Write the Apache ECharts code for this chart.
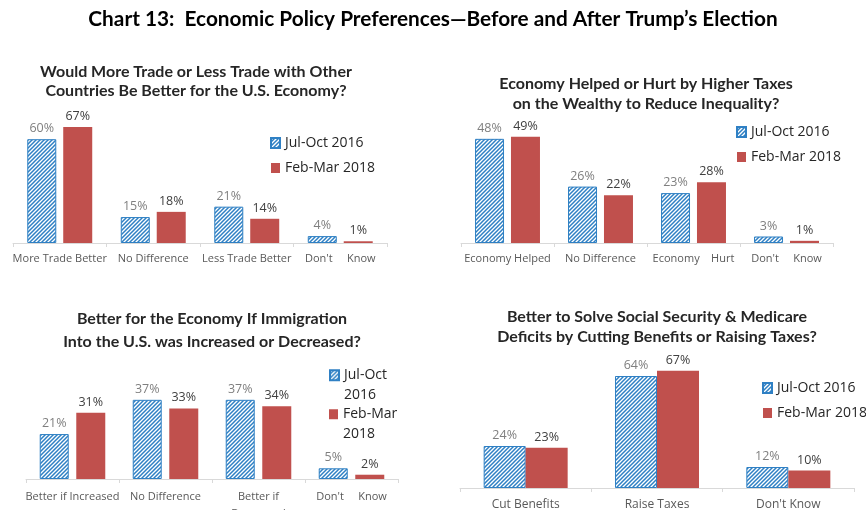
<!DOCTYPE html>
<html>
<head>
<meta charset="utf-8">
<script src="https://cdn.jsdelivr.net/npm/echarts@6/dist/echarts.min.js"></script>
<style>
  html, body { margin: 0; padding: 0; background: #ffffff; }
  #chart { width: 866px; height: 510px; }
</style>
</head>
<body>
<div id="chart"></div>
<script>
// Survey waves
const seriesNames = ['Jul-Oct 2016', 'Feb-Mar 2018'];

// Panel 1: trade
const tradeCategories = ['More Trade Better', 'No Difference', 'Less Trade Better', "Don't     Know"];
const trade2016 = [60, 15, 21, 4];
const trade2018 = [67, 18, 14, 1];

// Panel 2: taxes on the wealthy
const taxCategories = ['Economy Helped', 'No Difference', 'Economy    Hurt', "Don't     Know"];
const tax2016 = [48, 26, 23, 3];
const tax2018 = [49, 22, 28, 1];

// Panel 3: immigration
const immigrationCategories = ['Better if Increased', 'No Difference', 'Better if\nDecreased', "Don't     Know"];
const immigration2016 = [21, 37, 37, 5];
const immigration2018 = [31, 33, 34, 2];

// Panel 4: Social Security & Medicare
const entitlementCategories = ['Cut Benefits', 'Raise Taxes', "Don't Know"];
const entitlement2016 = [24, 64, 12];
const entitlement2018 = [23, 67, 10];

const mainTitle = 'Chart 13:  Economic Policy Preferences\u2014Before and After Trump\u2019s Election';
const panelTitles = [
  'Would More Trade or Less Trade with Other\nCountries Be Better for the U.S. Economy?',
  'Economy Helped or Hurt by Higher Taxes\non the Wealthy to Reduce Inequality?',
  'Better for the Economy If Immigration\nInto the U.S. was Increased or Decreased?',
  'Better to Solve Social Security & Medicare\nDeficits by Cutting Benefits or Raising Taxes?'
];

const BLUE = '#2f80c4';
const RED = '#c0504d';
const FONT = 'Lato, "Open Sans", sans-serif';
const LABEL_FONT = '"Open Sans", Lato, sans-serif';

// diagonal hatch used for the 2016 bars
function hatchPattern(color) {
  const s = 4;
  const c = document.createElement('canvas');
  c.width = s; c.height = s;
  const ctx = c.getContext('2d');
  ctx.fillStyle = '#ffffff';
  ctx.fillRect(0, 0, s, s);
  ctx.strokeStyle = color;
  ctx.lineWidth = 1.5;
  ctx.beginPath();
  ctx.moveTo(-1, s + 1); ctx.lineTo(s + 1, -1);
  ctx.moveTo(-1, 1); ctx.lineTo(1, -1);
  ctx.moveTo(s - 1, s + 1); ctx.lineTo(s + 1, s - 1);
  ctx.stroke();
  return { image: c, repeat: 'repeat' };
}
const hatch = hatchPattern(BLUE);

// layout of each panel
const panels = [
  { categories: tradeCategories, a: trade2016, b: trade2018,
    grid: { left: 13, top: 70, width: 374, height: 173 },
    title: { x: 196, top: 62, lineHeight: 19 },
    barWidth: 29, barGap: '24%', labelMargin: 9, labelSize: 11, labelLineHeight: 14 },
  { categories: taxCategories, a: tax2016, b: tax2018,
    grid: { left: 461, top: 26, width: 372, height: 217 },
    title: { x: 646, top: 74, lineHeight: 20 },
    barWidth: 29, barGap: '24%', labelMargin: 9, labelSize: 11, labelLineHeight: 14 },
  { categories: immigrationCategories, a: immigration2016, b: immigration2018,
    grid: { left: 26, top: 265, width: 372, height: 214 },
    title: { x: 212, top: 307, lineHeight: 23 },
    barWidth: 29, barGap: '26%', labelMargin: 9, labelSize: 11, labelLineHeight: 17 },
  { categories: entitlementCategories, a: entitlement2016, b: entitlement2018,
    grid: { left: 460, top: 313, width: 394, height: 175 },
    title: { x: 657, top: 307, lineHeight: 20 },
    barWidth: 42, barGap: '0%', labelMargin: 10, labelSize: 12, labelLineHeight: 14 }
];

const grid = [], xAxis = [], yAxis = [], series = [], title = [];

title.push({
  text: mainTitle, left: 433, top: 7, textAlign: 'center', padding: 0,
  textStyle: { fontFamily: FONT, fontWeight: 'bold', fontSize: 20.8, lineHeight: 24, color: '#000000' }
});

panels.forEach((p, i) => {
  // fixed plot rectangles; labels may run past the page edge
  grid.push(Object.assign({ containLabel: false, outerBoundsMode: 'none' }, p.grid));
  title.push({
    text: panelTitles[i], left: p.title.x, top: p.title.top, textAlign: 'center', padding: 0,
    textStyle: { fontFamily: FONT, fontWeight: 'bold', fontSize: 16, lineHeight: p.title.lineHeight, color: '#262626' }
  });
  xAxis.push({
    type: 'category', gridIndex: i, data: p.categories,
    axisLine: { lineStyle: { color: '#d9d9d9', width: 1 } },
    axisTick: { show: true, length: 4, lineStyle: { color: '#d9d9d9' } },
    axisLabel: { interval: 0, margin: p.labelMargin, color: '#595959', fontFamily: LABEL_FONT,
                 fontSize: p.labelSize, lineHeight: p.labelLineHeight }
  });
  yAxis.push({ type: 'value', gridIndex: i, min: 0, max: 100, show: false, splitLine: { show: false } });
  series.push({
    name: seriesNames[0], type: 'bar', xAxisIndex: i, yAxisIndex: i, data: p.a,
    barWidth: p.barWidth, barGap: p.barGap,
    itemStyle: { color: hatch, borderColor: BLUE, borderWidth: 1 },
    label: { show: true, position: 'top', distance: 4, formatter: '{c}%',
             color: '#7f7f7f', fontFamily: LABEL_FONT, fontSize: 12.5 }
  });
  series.push({
    name: seriesNames[1], type: 'bar', xAxisIndex: i, yAxisIndex: i, data: p.b,
    barWidth: p.barWidth, barGap: p.barGap,
    itemStyle: { color: RED },
    label: { show: true, position: 'top', distance: 4, formatter: '{c}%',
             color: '#404040', fontFamily: LABEL_FONT, fontSize: 12.5 }
  });
});

const legendText = { fontFamily: LABEL_FONT, fontSize: 14, lineHeight: 18, color: '#262626' };
const legendBase = { orient: 'vertical', icon: 'rect', itemWidth: 9, itemHeight: 10, itemGap: 7,
                     padding: 0, selectedMode: false, textStyle: legendText };
const legend = [
  Object.assign({}, legendBase, { left: 270, top: 134, data: seriesNames }),
  Object.assign({}, legendBase, { left: 736, top: 123, data: seriesNames }),
  // narrow panel: each entry wraps onto two lines
  Object.assign({}, legendBase, { left: 329, top: 346, data: [seriesNames[0]],
    formatter: () => '\nJul-Oct\n2016', textStyle: Object.assign({}, legendText, { lineHeight: 19.5 }) }),
  Object.assign({}, legendBase, { left: 329, top: 385, data: [seriesNames[1]],
    formatter: () => '\nFeb-Mar\n2018', textStyle: Object.assign({}, legendText, { lineHeight: 19.5 }) }),
  Object.assign({}, legendBase, { left: 762, top: 379, data: seriesNames })
];

const chart = echarts.init(document.getElementById('chart'), null, { renderer: 'canvas' });
chart.setOption({
  backgroundColor: '#ffffff',
  animation: false,
  title, grid, xAxis, yAxis, series, legend
});
</script>
</body>
</html>
